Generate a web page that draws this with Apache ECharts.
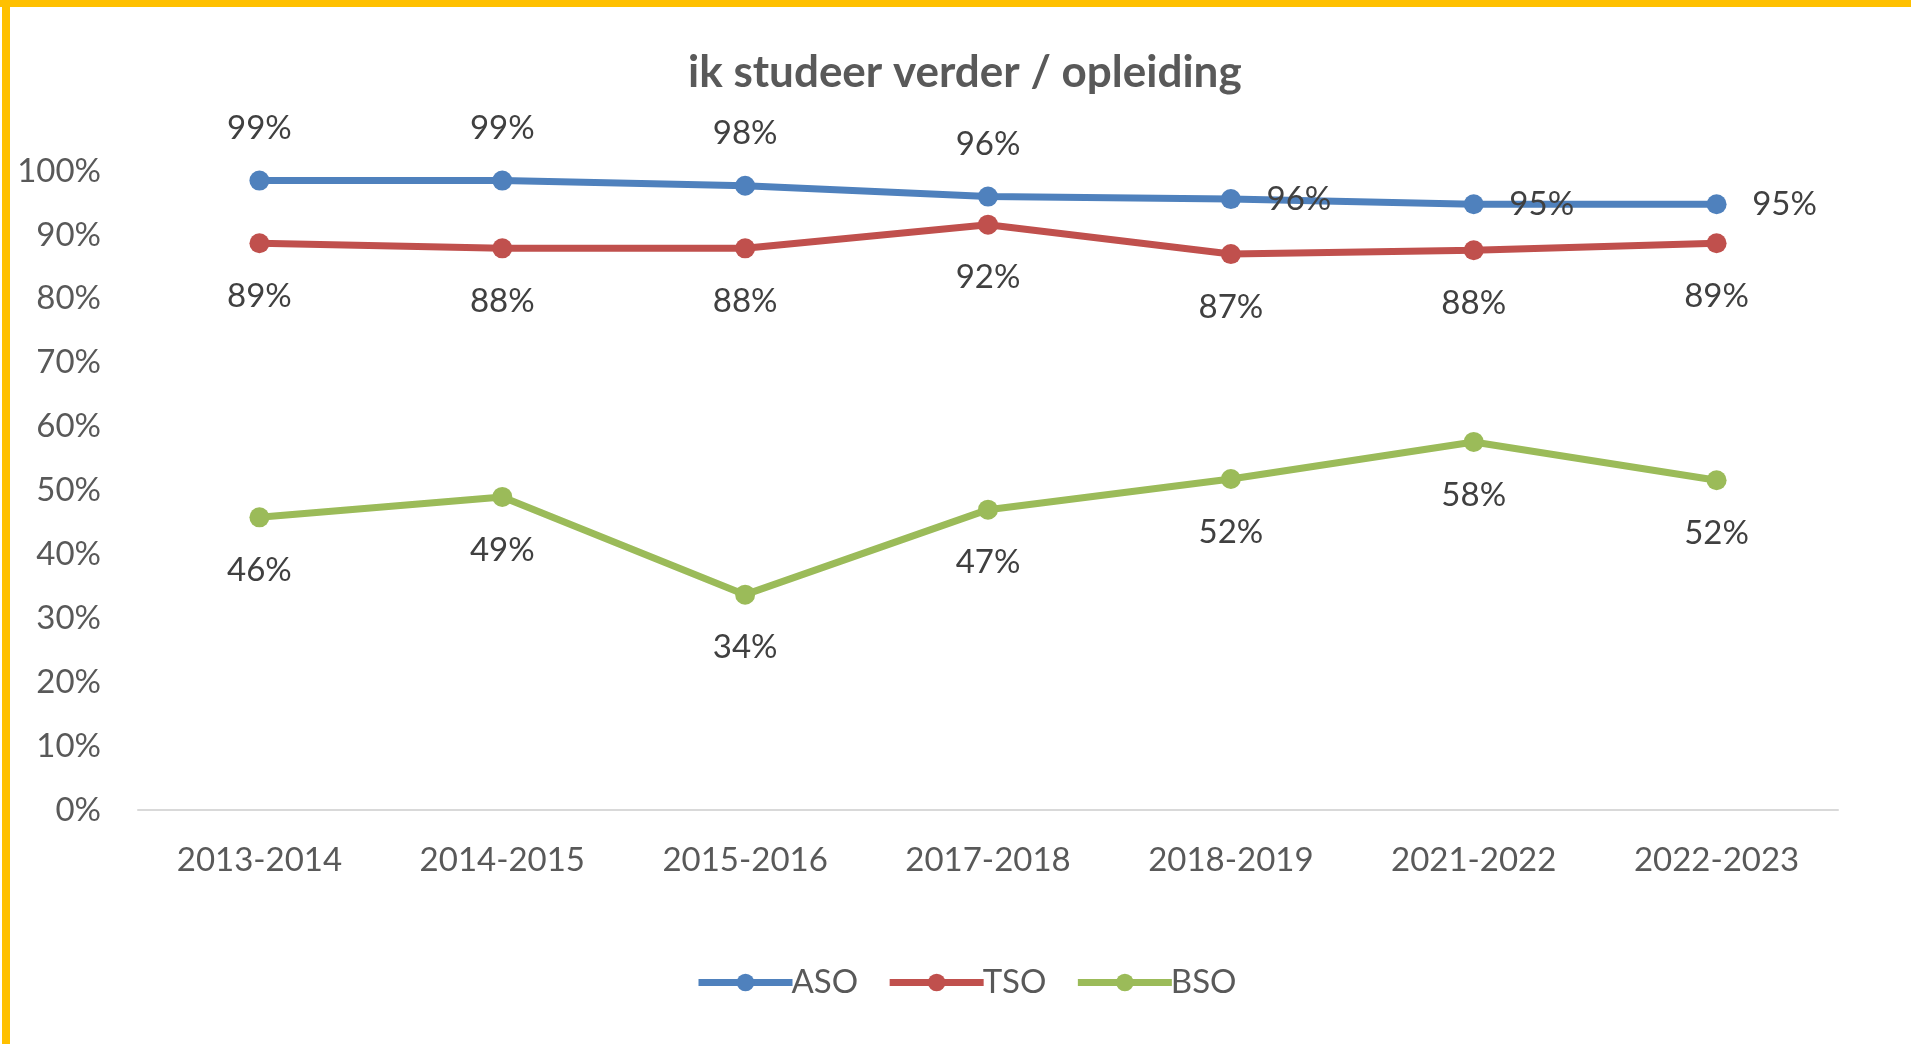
<!DOCTYPE html>
<html>
<head>
<meta charset="utf-8">
<title>ik studeer verder / opleiding</title>
<script src="https://cdn.jsdelivr.net/npm/echarts@6/dist/echarts.min.js"></script>
<style>
  html, body { margin: 0; padding: 0; background: #fff; }
  #chart { width: 1911px; height: 1044px; }
  .frame-top { position: absolute; left: 0; top: 0; width: 1911px; height: 7px; background: #FFC000; }
  .frame-left { position: absolute; left: 2px; top: 0; width: 8px; height: 1044px; background: #FFC000; }
</style>
</head>
<body>
<div id="chart"></div>
<div class="frame-top"></div>
<div class="frame-left"></div>
<script>
// school years on the x axis
const years = ['2013-2014', '2014-2015', '2015-2016', '2017-2018', '2018-2019', '2021-2022', '2022-2023'];

// share of students (%) per education type
const aso = [98.5, 98.5, 97.7, 96.0, 95.6, 94.8, 94.8];
const tso = [88.7, 87.9, 87.9, 91.6, 87.0, 87.6, 88.7];
const bso = [45.8, 49.0, 33.7, 47.0, 51.8, 57.6, 51.6];

// where the ASO value label sits (above the point or right of it)
const asoLabelSide = ['top', 'top', 'top', 'top', 'right', 'right', 'right'];

const colors = { ASO: '#4F81BD', TSO: '#C0504D', BSO: '#9BBB59' };
const font = 'Lato';

const chart = echarts.init(document.getElementById('chart'), null, { renderer: 'canvas' });

// label offsets relative to the point centre
const offsetFor = side => {
  if (side === 'top') return [0, -52];
  if (side === 'right') return [68, 0];
  return [0, 53];
};

const makeSeries = (name, values, sides) => ({
  name,
  type: 'line',
  data: values.map((v, i) => ({
    value: v,
    label: { offset: offsetFor(sides[i]) }
  })),
  symbol: 'circle',
  symbolSize: 20,
  lineStyle: { width: 7, color: colors[name] },
  itemStyle: { color: colors[name] },
  label: {
    show: true,
    position: 'inside',
    formatter: p => Math.round(p.value) + '%',
    fontFamily: font,
    fontSize: 33,
    color: '#404040'
  },
  emphasis: { disabled: true },
  animation: false
});

const option = {
  color: [colors.ASO, colors.TSO, colors.BSO],
  title: {
    text: 'ik studeer verder / opleiding',
    left: 683,
    top: 46,
    textStyle: { fontFamily: font, fontSize: 44, fontWeight: 'bold', color: '#595959' }
  },
  legend: {
    bottom: 40,
    left: 690,
    itemWidth: 94,
    itemHeight: 22,
    itemGap: 28,
    lineStyle: { width: 7 },
    textStyle: { fontFamily: font, fontSize: 33, color: '#595959', padding: [0, 0, 0, -6] },
    data: ['ASO', 'TSO', 'BSO']
  },
  grid: { left: 138, right: 73, top: 171, bottom: 234 },
  xAxis: {
    type: 'category',
    data: years,
    boundaryGap: true,
    axisLine: { lineStyle: { color: '#D9D9D9', width: 2 } },
    axisTick: { show: false },
    axisLabel: { fontFamily: font, fontSize: 33, color: '#595959', margin: 34 }
  },
  yAxis: {
    type: 'value',
    min: 0,
    max: 100,
    interval: 10,
    axisLine: { show: false },
    axisTick: { show: false },
    splitLine: { show: false },
    axisLabel: { fontFamily: font, fontSize: 33, color: '#595959', margin: 37, formatter: '{value}%' }
  },
  series: [
    makeSeries('ASO', aso, asoLabelSide),
    makeSeries('TSO', tso, tso.map(() => 'bottom')),
    makeSeries('BSO', bso, bso.map(() => 'bottom'))
  ]
};

chart.setOption(option);
</script>
</body>
</html>
